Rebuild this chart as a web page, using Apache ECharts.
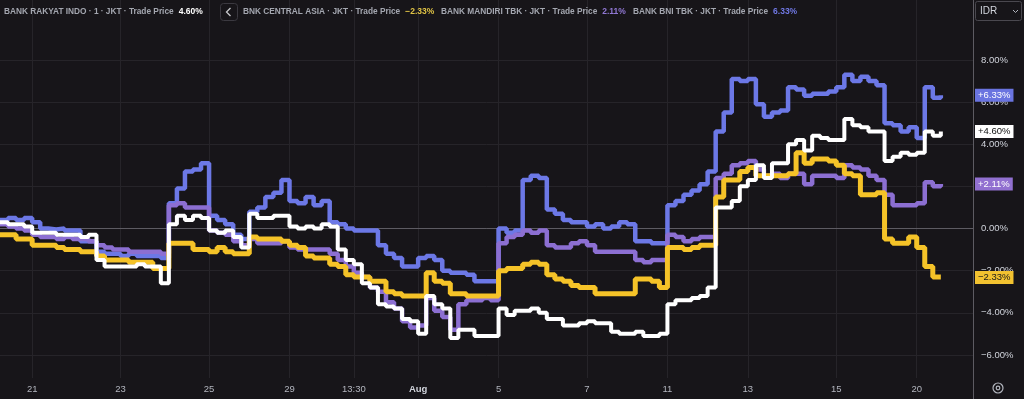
<!DOCTYPE html>
<html>
<head>
<meta charset="utf-8">
<script src="https://cdn.jsdelivr.net/npm/echarts@6/dist/echarts.min.js"></script>
<style>
  html, body { margin: 0; padding: 0; background: #171519; }
  #container { width: 1024px; height: 399px; }
</style>
</head>
<body>
<div id="container"></div>
<script>
// session labels on the time axis and the slot where each one starts
var dayLabels = ['21', '23', '25', '29', '13:30', 'Aug', '5', '7', '11', '13', '15', '20'];
var dayStart = [4, 15, 26, 36, 44, 52, 62, 73, 83, 93, 104, 114];
var slotCount = 122;

// % change vs. start, one value per time slot
var bri = [
  0.3, 0.2, 0.2, 0.1, -0.2, -0.2, -0.2, -0.3, -0.3, -0.3,
  -0.4, -0.3, -1.5, -1.8, -1.8, -1.8, -1.8, -1.7, -1.8, -1.8,
  -2.6, 0.2, 0.6, 0.4, 0.6, 0.5, -0.1, -0.2, -0.1, -0.4,
  -0.9, 0.7, 0.5, 0.5, 0.6, 0.6, 0.1, 0.0, 0.1, 0.0,
  0.2, 0.1, -1.0, -1.5, -1.7, -2.6, -2.8, -3.6, -3.7, -3.8,
  -4.3, -4.4, -5.0, -3.2, -3.6, -3.8, -5.2, -4.8, -4.8, -5.1,
  -5.1, -5.1, -3.8, -4.1, -3.9, -3.9, -3.8, -4.0, -4.3, -4.3,
  -4.6, -4.6, -4.5, -4.4, -4.5, -4.5, -4.9, -5.0, -5.0, -4.9,
  -5.1, -5.1, -5.0, -3.6, -3.4, -3.4, -3.3, -3.2, -2.8, 1.0,
  1.0, 1.3, 2.0, 2.3, 3.0, 2.4, 3.1, 3.1, 4.0, 4.2,
  3.7, 4.4, 4.3, 4.2, 4.2, 5.2, 4.9, 4.8, 4.6, 4.6,
  3.2, 3.4, 3.6, 3.5, 3.6, 4.6, 4.4, 4.6
];
var bca = [
  -0.3, -0.3, -0.5, -0.5, -0.8, -0.8, -0.8, -0.9, -1.0, -1.0,
  -1.1, -1.1, -1.3, -1.5, -1.5, -1.5, -1.6, -1.6, -1.6, -1.9,
  -1.9, -0.7, -0.7, -0.7, -1.0, -1.0, -1.1, -0.9, -1.1, -1.2,
  -1.2, -0.4, -0.5, -0.5, -0.5, -0.6, -0.8, -0.9, -1.3, -1.4,
  -1.4, -1.7, -1.8, -2.2, -2.3, -2.3, -2.5, -2.5, -3.0, -3.1,
  -3.2, -3.2, -3.2, -2.1, -2.5, -2.6, -3.1, -3.1, -3.2, -3.2,
  -3.2, -3.2, -2.0, -1.9, -1.9, -1.7, -1.6, -1.7, -2.2, -2.4,
  -2.5, -2.7, -2.8, -2.8, -3.1, -3.1, -3.1, -3.1, -3.1, -2.4,
  -2.4, -2.5, -2.8, -0.9, -0.9, -1.0, -0.9, -0.8, -0.8, 1.5,
  2.3, 2.3, 2.7, 2.9, 2.5, 2.5, 2.5, 2.5, 2.6, 3.6,
  3.1, 3.3, 3.3, 3.2, 3.0, 2.6, 2.5, 1.6, 1.6, 1.7,
  -0.5, -0.7, -0.7, -0.4, -0.9, -1.8, -2.3, -2.33
];
var mandiri = [
  0.2, 0.1, 0.0, -0.1, -0.3, -0.4, -0.4, -0.5, -0.4, -0.5,
  -0.5, -0.6, -0.8, -0.9, -1.0, -1.0, -1.1, -1.1, -1.1, -1.1,
  -1.2, 1.1, 1.2, 1.0, 1.0, 1.0, -0.1, -0.2, -0.3, -0.6,
  -0.8, -0.5, -0.7, -0.7, -0.7, -0.6, -0.9, -1.0, -1.0, -1.0,
  -1.0, -1.2, -1.5, -1.8, -2.1, -2.3, -2.8, -3.0, -3.5, -3.8,
  -4.4, -4.7, -4.6, -3.3, -3.9, -4.2, -4.8, -3.6, -3.4, -3.4,
  -3.3, -3.4, -0.7, -0.4, -0.3, -0.1, -0.2, -0.1, -0.8, -0.9,
  -0.9, -0.7, -0.6, -0.8, -1.1, -1.1, -1.1, -1.1, -1.1, -1.5,
  -1.6, -1.5, -1.5, -0.3, -0.4, -0.6, -0.5, -0.4, -0.4, 2.4,
  2.6, 3.0, 3.1, 3.2, 2.8, 2.5, 2.6, 2.4, 2.6, 2.6,
  2.1, 2.5, 2.5, 2.5, 2.4, 3.0, 2.9, 2.8, 2.5, 2.3,
  1.6, 1.1, 1.1, 1.1, 1.2, 2.2, 2.0, 2.11
];
var bni = [
  0.4, 0.5, 0.4, 0.5, 0.3, 0.0, -0.05, 0.0, -0.1, -0.1,
  -0.6, -0.6, -1.1, -1.2, -1.2, -1.3, -1.2, -1.3, -1.3, -1.3,
  -1.4, 1.2, 1.9, 2.7, 2.8, 3.1, 0.6, 0.4, 0.2, -0.3,
  -0.5, 0.8, 1.0, 1.5, 1.7, 2.3, 1.3, 1.2, 1.5, 1.1,
  1.3, 0.3, 0.2, 0.0, -0.1, -0.1, -0.1, -0.8, -1.2, -1.4,
  -1.8, -1.8, -1.4, -1.3, -1.5, -2.0, -2.1, -2.1, -2.2, -2.5,
  -2.5, -2.5, 0.0, -0.2, -0.1, 2.3, 2.5, 2.4, 0.9, 0.7,
  0.4, 0.3, 0.3, 0.1, 0.2, 0.0, 0.1, 0.3, 0.2, -0.6,
  -0.6, -0.7, -0.7, 1.1, 1.3, 1.6, 1.8, 2.1, 2.7, 4.6,
  5.5, 7.1, 7.0, 7.1, 5.9, 5.3, 5.5, 5.6, 6.7, 6.6,
  6.3, 6.4, 6.4, 6.5, 6.7, 7.3, 7.0, 7.2, 7.0, 6.8,
  5.0, 4.9, 4.6, 4.8, 4.3, 6.7, 6.2, 6.33
];
var yTicks = [-6, -4, -2, 0, 2, 4, 6, 8];

var categories = [];
for (var i = 0; i < slotCount; i++) {
  var k = dayStart.indexOf(i);
  categories.push(k >= 0 ? dayLabels[k] : '');
}

var font = "'Liberation Sans', Arial, sans-serif";
var gridColor = '#262429';

function pct(v) {
  var s = Math.abs(v).toFixed(2) + '%';
  return v < 0 ? '\u2212' + s : s;
}
function last(a) { return a[a.length - 1]; }

function lineSeries(name, data, color, width, tagBg, tagText) {
  return {
    name: name,
    type: 'line',
    step: 'end',
    data: data,
    symbol: 'none',
    animation: false,
    clip: false,
    lineStyle: { color: color, width: width },
    markLine: {
      silent: true,
      symbol: 'none',
      animation: false,
      lineStyle: { color: 'rgba(0,0,0,0)', width: 1, type: 'solid' },
      label: {
        show: true,
        position: 'end',
        distance: 2,
        formatter: function (p) { return (p.value > 0 ? '+' : '') + pct(p.value); },
        backgroundColor: tagBg,
        color: tagText,
        padding: [2, 3, 1, 3],
        fontSize: 9.5,
        fontFamily: font
      },
      data: [{ yAxis: last(data) }]
    }
  };
}

var dom = document.getElementById('container');
var myChart = echarts.init(dom, null, { renderer: 'canvas' });

var head = function (name, value) {
  return '{n|' + name + '}{v|' + value + '}';
};
var headRich = function (color) {
  return {
    rich: {
      n: { color: '#a4a7b0', fontSize: 8.3, fontFamily: font },
      v: { color: color, fontSize: 8.5, fontFamily: font, padding: [0, 0, 0, 5] }
    }
  };
};

var option = {
  backgroundColor: '#171519',
  animation: false,
  title: [
    { left: 4, top: 7, padding: 0, text: head('BANK RAKYAT INDO \u00b7 1 \u00b7 JKT \u00b7 Trade Price', pct(last(bri))), textStyle: headRich('#ffffff') },
    { left: 243, top: 7, padding: 0, text: head('BNK CENTRAL ASIA \u00b7 JKT \u00b7 Trade Price', pct(last(bca))), textStyle: headRich('#e0c345') },
    { left: 441, top: 7, padding: 0, text: head('BANK MANDIRI TBK \u00b7 JKT \u00b7 Trade Price', pct(last(mandiri))), textStyle: headRich('#9178d4') },
    { left: 633, top: 7, padding: 0, text: head('BANK BNI TBK \u00b7 JKT \u00b7 Trade Price', pct(last(bni))), textStyle: headRich('#7078e4') }
  ],
  grid: { left: 0, right: 51, top: 0, bottom: 21 },
  xAxis: {
    type: 'category',
    data: categories,
    boundaryGap: false,
    axisLine: { lineStyle: { color: '#5d5b62' } },
    axisTick: { show: false },
    axisLabel: {
      interval: function (i, v) { return v !== ''; },
      color: '#b2b5be',
      fontSize: 9.5,
      fontFamily: font,
      margin: 6,
      formatter: function (v) { return v === 'Aug' ? '{b|Aug}' : v; },
      rich: { b: { fontWeight: 'bold', color: '#d1d4dc', fontSize: 9.5, fontFamily: font } }
    },
    splitLine: {
      show: true,
      interval: function (i, v) { return v !== ''; },
      lineStyle: { color: gridColor }
    }
  },
  yAxis: {
    type: 'value',
    position: 'right',
    min: -7.095,
    max: 10.845,
    axisLine: { show: true, lineStyle: { color: '#5d5b62' } },
    axisTick: { show: false, customValues: yTicks },
    axisLabel: {
      customValues: yTicks,
      formatter: function (v) { return pct(v); },
      color: '#d1d4dc',
      fontSize: 9.5,
      fontFamily: font,
      margin: 8
    },
    splitLine: {
      show: true,
      lineStyle: { color: [gridColor, gridColor, gridColor, '#4a484f', gridColor, gridColor, gridColor, gridColor] }
    }
  },
  graphic: [
    { type: 'rect', shape: { x: 220.5, y: 3.5, width: 17, height: 17, r: 3 }, style: { fill: 'none', stroke: '#3b3940' } },
    { type: 'polyline', shape: { points: [[230.5, 8], [226.5, 12], [230.5, 16]] }, style: { fill: 'none', stroke: '#c8c8cc', lineWidth: 1.3 } },
    { type: 'rect', shape: { x: 975.5, y: 1.5, width: 46, height: 19, r: 2 }, style: { fill: '#171519', stroke: '#4a484f' } },
    { type: 'text', x: 980, y: 11, style: { text: 'IDR', fill: '#d1d4dc', fontSize: 10, fontFamily: font, verticalAlign: 'middle' } },
    { type: 'polyline', shape: { points: [[1013, 10], [1015.5, 12.5], [1018, 10]] }, style: { fill: 'none', stroke: '#b2b5be', lineWidth: 1 } },
    { type: 'line', shape: { x1: 973.5, y1: 378, x2: 973.5, y2: 399 }, style: { stroke: '#5d5b62' } },
    { type: 'circle', shape: { cx: 998, cy: 388, r: 5 }, style: { fill: 'none', stroke: '#b2b5be', lineWidth: 1.2 } },
    { type: 'circle', shape: { cx: 998, cy: 388, r: 1.8 }, style: { fill: 'none', stroke: '#b2b5be', lineWidth: 1.2 } }
  ],
  series: [
    lineSeries('BANK BNI TBK', bni, '#6c78e6', 4.5, '#6a74e0', '#ffffff'),
    lineSeries('BANK MANDIRI TBK', mandiri, '#8c6fd2', 4.5, '#9170d0', '#ffffff'),
    lineSeries('BNK CENTRAL ASIA', bca, '#f5c328', 5, '#f2c230', '#1a1a1a'),
    lineSeries('BANK RAKYAT INDO', bri, '#ffffff', 4, '#ffffff', '#111111')
  ]
};

if (option && typeof option === 'object') {
  myChart.setOption(option);
}

window.addEventListener('resize', myChart.resize);
</script>
</body>
</html>
